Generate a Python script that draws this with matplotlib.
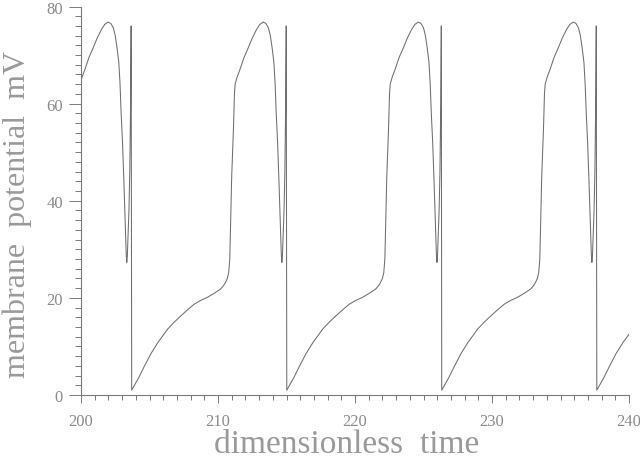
import numpy as np
import matplotlib
matplotlib.use("Agg")
import matplotlib.pyplot as plt
from matplotlib.ticker import MultipleLocator

# Forme d'un cycle: temps depuis la chute du pic, potentiel en mV
phase = [0.00, 0.50, 0.94, 1.40, 1.91, 2.63, 3.10, 3.59, 4.10, 4.56, 5.05,
         5.52, 6.00, 6.48, 6.70, 6.85, 6.98, 7.08, 7.16, 7.22, 7.30, 7.43,
         7.50, 7.55, 7.70, 7.90, 8.20, 8.51, 8.80, 9.12, 9.35, 9.60, 9.80,
         9.98, 10.12, 10.25, 10.38, 10.47, 10.55, 10.65, 10.75, 10.85,
         10.92, 10.96, 11.00, 11.06, 11.12, 11.18, 11.24, 11.28]
volt = [1.0, 3.5, 6.0, 8.5, 10.8, 13.6, 15.0, 16.3, 17.6, 18.7, 19.5,
        20.1, 20.9, 21.8, 22.5, 23.2, 24.0, 25.2, 28.0, 35.0, 45.0, 55.0,
        62.0, 64.0, 65.5, 67.0, 69.5, 71.5, 73.5, 75.3, 76.3, 76.8, 76.5,
        75.6, 74.0, 71.5, 68.5, 64.0, 58.0, 52.0, 44.0, 35.0,
        29.0, 27.3, 28.5, 33.0, 38.0, 46.0, 60.0, 76.0]

# Instants des chutes brutales du potentiel
t_pics = [192.38, 203.70, 215.02, 226.33, 237.65]

x_ticks = [200, 210, 220, 230, 240]
y_ticks = [0, 20, 40, 60, 80]

gris_texte = "#8a8a8a"
gris_axe = "#7a7a7a"

# Construction de la courbe complète cycle par cycle
t_tot = []
v_tot = []
for t0 in t_pics:
    for p, v in zip(phase, volt):
        t_tot.append(t0 + p)
        v_tot.append(v)
t_tot = np.array(t_tot)
v_tot = np.array(v_tot)

fig = plt.figure(figsize=(6.4, 4.6), dpi=100)
ax = fig.add_axes([81 / 640, 64 / 460, 548 / 640, 388.5 / 460])

ax.plot(t_tot, v_tot, color="#6e6e6e", lw=0.75)

ax.set_xlim(200, 240)
ax.set_ylim(0, 80)

for s in ["top", "right"]:
    ax.spines[s].set_visible(False)
for s in ["left", "bottom"]:
    ax.spines[s].set_color(gris_axe)
    ax.spines[s].set_linewidth(0.8)

ax.set_xticks(x_ticks)
ax.set_yticks(y_ticks)
ax.xaxis.set_minor_locator(MultipleLocator(1))
ax.yaxis.set_minor_locator(MultipleLocator(2))

police = "Liberation Serif"
ax.tick_params(axis="x", which="major", direction="out", length=6, width=0.7,
               color=gris_axe, pad=7, labelsize=12, labelcolor=gris_texte)
ax.tick_params(axis="x", which="minor", direction="out", length=3.6, width=0.7,
               color=gris_axe)
ax.tick_params(axis="y", which="major", direction="out", length=9, width=0.7,
               color=gris_axe, pad=4, labelsize=12, labelcolor=gris_texte)
ax.tick_params(axis="y", which="minor", direction="out", length=4.5, width=0.7,
               color=gris_axe)
for lab in ax.get_xticklabels() + ax.get_yticklabels():
    lab.set_family(police)

ax.set_xlabel("dimensionless  time", family=police, fontsize=24,
              color="#9a9a9a")
ax.xaxis.set_label_coords(0.484, -0.085)
ax.set_ylabel("membrane  potential  mV", family=police, fontsize=23,
              color="#9a9a9a")
ax.yaxis.set_label_coords(-0.089, 0.468)

fig.savefig("out.png", dpi=100)
